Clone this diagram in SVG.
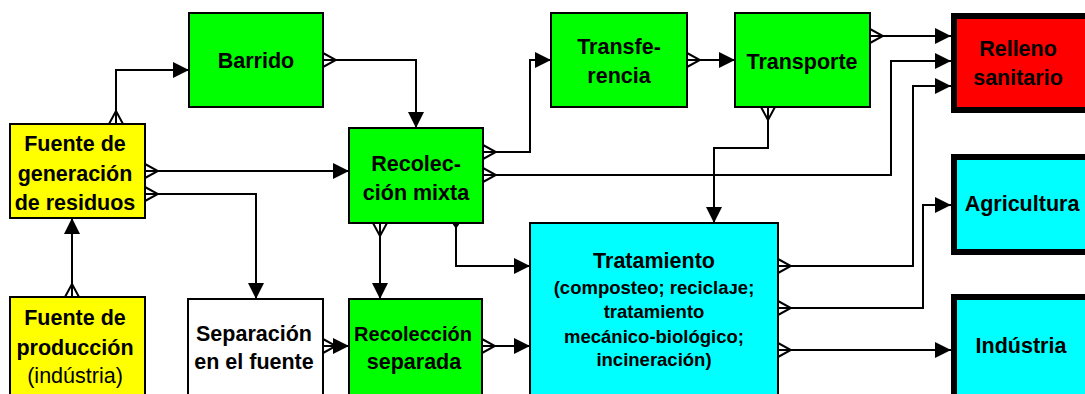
<svg xmlns="http://www.w3.org/2000/svg" width="1085" height="394" viewBox="0 0 1085 394">
<style>
.box{stroke:#000;stroke-width:2}
.big{stroke:#000;stroke-width:6}
.g{fill:#00ff00}.y{fill:#ffff00}.c{fill:#00ffff}.r{fill:#ff0000}.w{fill:#ffffff}
text{font-family:"Liberation Sans",Arial,sans-serif;font-weight:bold;font-size:21.5px;fill:#000;text-anchor:middle}
.sub{font-size:18.5px}
.nw{font-weight:normal}
.narrow{font-size:20px}
.conn path{fill:none;stroke:#000;stroke-width:2;marker-start:url(#fork);marker-end:url(#arrow)}
</style>
<defs>
<marker id="arrow" viewBox="0 0 16 16" refX="16" refY="8" markerWidth="16" markerHeight="16" markerUnits="userSpaceOnUse" orient="auto">
<path d="M0,0 L16,8 L0,16 z" fill="#000"/>
</marker>
<marker id="fork" viewBox="-1 -1 15 16" refX="0" refY="7" markerWidth="15" markerHeight="16" markerUnits="userSpaceOnUse" orient="auto">
<path d="M0,0 L13,7 L0,14" fill="none" stroke="#000" stroke-width="2"/>
</marker>
</defs>
<rect width="1085" height="394" fill="#fff"/>
<g class="conn">
<path d="M116,124 V70 H189"/>
<path d="M145,171 H349"/>
<path d="M145,194 H256 V299"/>
<path d="M72,297 V218"/>
<path d="M323,60 H416 V128"/>
<path d="M483,152 H530 V60 H551"/>
<path d="M483,175 H891 V61 H951"/>
<path d="M870,36 H951"/>
<path d="M687,60 H735"/>
<path d="M768,107 V148 H714 V223"/>
<path d="M380,223 V299"/>
<path d="M456,223 V266 H530" style="marker-start:none"/>
<path d="M323,346 H349"/>
<path d="M482,346 H530"/>
<path d="M778,266 H913 V86 H951"/>
<path d="M778,308 H923 V205 H951"/>
<path d="M778,350 H951"/>
<polygon points="452,223 460,223 456,229" fill="#000"/>
</g>
<g id="fuente-generacion">
<rect class="box y" x="10" y="124" width="135" height="94"/>
<text x="75" y="150.5">Fuente de</text>
<text x="75" y="180.5">generación</text>
<text x="75" y="209.5">de residuos</text>
</g>
<g id="fuente-produccion">
<rect class="box y" x="10" y="297" width="135" height="105"/>
<text x="75" y="324.5">Fuente de</text>
<text x="75" y="354.5">producción</text>
<text class="nw" x="75" y="382.5">(indústria)</text>
</g>
<g id="barrido">
<rect class="box g" x="189" y="13" width="134" height="94"/>
<text x="256" y="67.5">Barrido</text>
</g>
<g id="recoleccion-mixta">
<rect class="box g" x="349" y="128" width="134" height="95"/>
<text x="416" y="170.5">Recolec-</text>
<text x="416" y="199.5">ción mixta</text>
</g>
<g id="separacion">
<rect class="box w" x="188" y="299" width="135" height="105"/>
<text x="254" y="340.5">Separación</text>
<text x="254" y="368.5">en el fuente</text>
</g>
<g id="recoleccion-separada">
<rect class="box g" x="349" y="299" width="133" height="105"/>
<text class="narrow" x="413" y="340.5">Recolección</text>
<text x="414" y="368.5">separada</text>
</g>
<g id="transferencia">
<rect class="box g" x="551" y="13" width="136" height="94"/>
<text x="619" y="53.5">Transfe-</text>
<text x="619" y="82.5">rencia</text>
</g>
<g id="transporte">
<rect class="box g" x="735" y="13" width="135" height="94"/>
<text x="802" y="68.5">Transporte</text>
</g>
<g id="tratamiento">
<rect class="box c" x="530" y="223" width="248" height="180"/>
<text x="654" y="267.5">Tratamiento</text>
<text class="sub" x="654" y="294">(composteo; reciclaᴊe;</text>
<text class="sub" x="654" y="318">tratamiento</text>
<text class="sub" x="654" y="343">mecánico-biológico;</text>
<text class="sub" x="654" y="366">incineración)</text>
</g>
<g id="relleno">
<rect class="big r" x="954" y="16" width="140" height="94"/>
<text x="1018" y="55.5">Relleno</text>
<text x="1018" y="84.5">sanitario</text>
</g>
<g id="agricultura">
<rect class="big c" x="954" y="157" width="140" height="95"/>
<text x="1022" y="210.5">Agricultura</text>
</g>
<g id="industria">
<rect class="big c" x="954" y="297" width="140" height="110"/>
<text x="1021" y="352.5">Indústria</text>
</g>
</svg>
